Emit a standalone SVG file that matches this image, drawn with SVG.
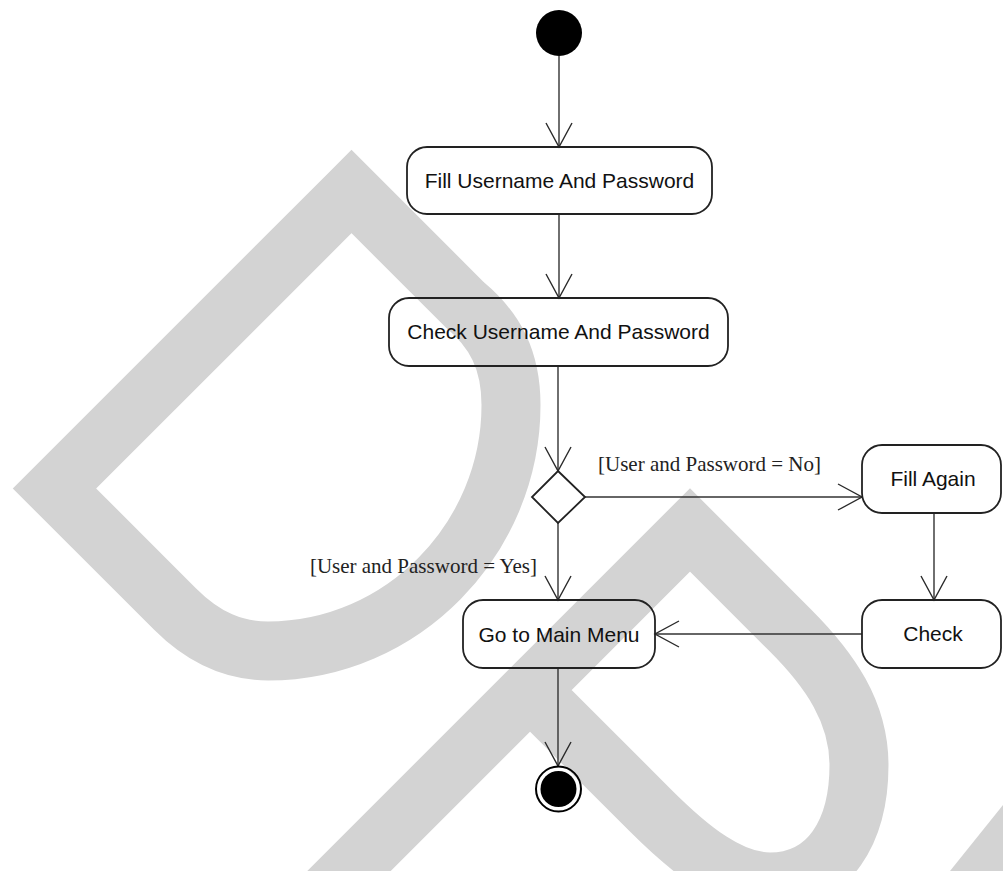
<svg xmlns="http://www.w3.org/2000/svg" width="1003" height="871" viewBox="0 0 1003 871">
  <defs>
    <marker id="open-arrow" markerUnits="userSpaceOnUse" markerWidth="30" markerHeight="30" viewBox="-26 -15 28 30" refX="0" refY="0" orient="auto">
      <path d="M -24,-13 L 0,0 L -24,13" fill="none" stroke="#2a2a2a" stroke-width="1.4"/>
    </marker>
    <style>
      .wm { fill: none; stroke: #d3d3d3; stroke-width: 59; stroke-linejoin: miter; stroke-miterlimit: 10; }
      .wmf { fill: #d3d3d3; stroke: none; }
      .act { fill: none; stroke: #222; stroke-width: 1.8; }
      .flow { fill: none; stroke: #333; stroke-width: 1.4; marker-end: url(#open-arrow); }
      .lbl { font-family: "Liberation Sans", Arial, sans-serif; font-size: 21px; fill: #111; text-anchor: middle; }
      .guard { font-family: "Liberation Serif", "Times New Roman", serif; font-size: 21px; fill: #222; }
    </style>
  </defs>

  <rect width="1003" height="871" fill="#ffffff"/>

  <!-- background logo mark -->
  <g id="watermark">
    <path class="wm" d="M 351.5,191.5 L 54.5,488.5 L 175,609 C 205,639 235,651 268,651 C 402,651 511,539 511,405 C 511,360 495,330 465,305 Z"/>
    <path class="wm" d="M 300,920 L 690,530 L 790,630 C 830,670 859,712 859,765 C 859,830 830,882 770,882 C 730,882 690,850 650,810 L 530,690"/>
    <polygon class="wmf" points="950,871 1003,805 1003,871"/>
  </g>

  <!-- control flows -->
  <g id="connectors">
    <line class="flow" x1="559" y1="56" x2="559" y2="147"/>
    <line class="flow" x1="559" y1="214" x2="559" y2="298"/>
    <line class="flow" x1="558" y1="366" x2="558" y2="471"/>
    <line class="flow" x1="585" y1="497" x2="862" y2="497"/>
    <line class="flow" x1="558" y1="523" x2="558" y2="600"/>
    <line class="flow" x1="934" y1="513" x2="934" y2="600"/>
    <line class="flow" x1="862" y1="634" x2="655" y2="634"/>
    <line class="flow" x1="558" y1="668" x2="558" y2="766"/>
    <text class="guard" x="598" y="471">[User and Password = No]</text>
    <text class="guard" x="537" y="573" text-anchor="end">[User and Password = Yes]</text>
  </g>

  <g id="start">
    <circle cx="559" cy="33" r="23" fill="#000"/>
  </g>

  <g id="fill-credentials">
    <rect class="act" x="407" y="147" width="305" height="67" rx="20" ry="20"/>
    <text class="lbl" x="559.5" y="188">Fill Username And Password</text>
  </g>

  <g id="check-credentials">
    <rect class="act" x="389" y="298" width="339" height="68" rx="20" ry="20"/>
    <text class="lbl" x="558.5" y="339">Check Username And Password</text>
  </g>

  <g id="decision">
    <polygon class="act" points="558,471 585,497 558,523 532,497"/>
  </g>

  <g id="fill-again">
    <rect class="act" x="862" y="445" width="139" height="68" rx="20" ry="20"/>
    <text class="lbl" x="933" y="486">Fill Again</text>
  </g>

  <g id="check">
    <rect class="act" x="862" y="600" width="139" height="68" rx="20" ry="20"/>
    <text class="lbl" x="933" y="641">Check</text>
  </g>

  <g id="main-menu">
    <rect class="act" x="463" y="600" width="192" height="68" rx="20" ry="20"/>
    <text class="lbl" x="559" y="642">Go to Main Menu</text>
  </g>

  <g id="end">
    <circle cx="558.5" cy="789" r="22.5" fill="none" stroke="#000" stroke-width="2"/>
    <circle cx="558.5" cy="789" r="18" fill="#000"/>
  </g>
</svg>
